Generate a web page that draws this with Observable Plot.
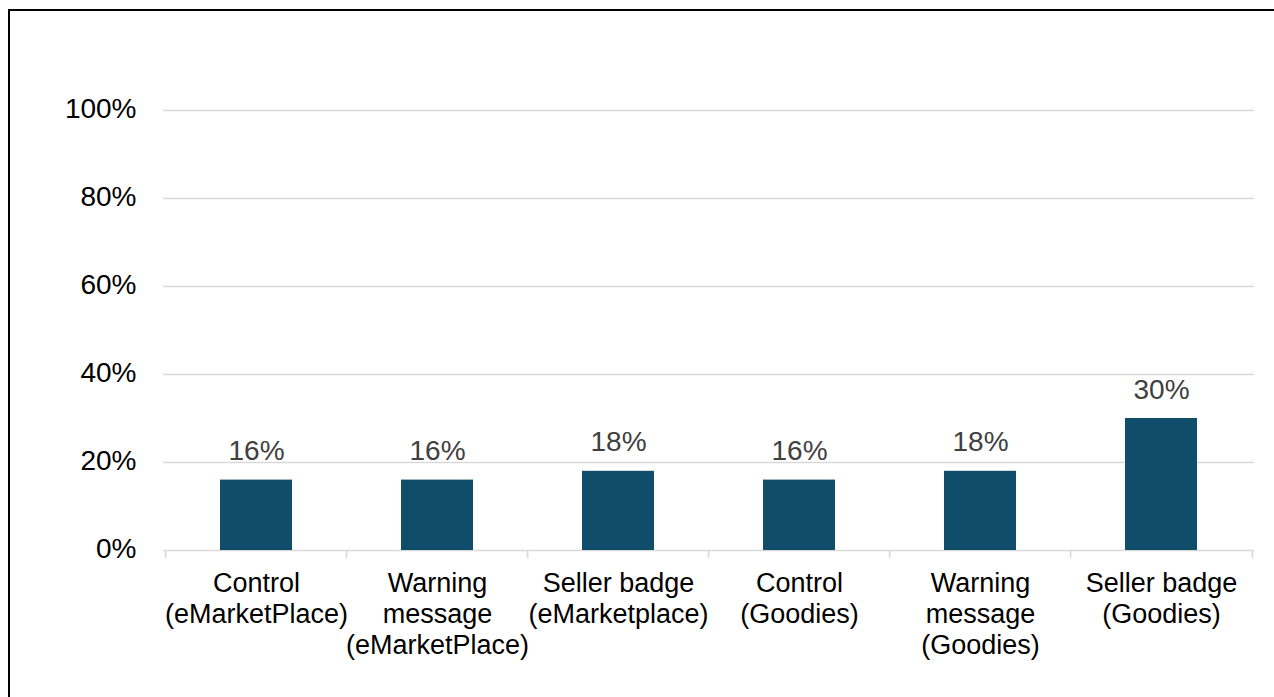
<!DOCTYPE html>
<html><head><meta charset="utf-8">
<script src="https://cdn.jsdelivr.net/npm/d3@7"></script>
<script src="https://cdn.jsdelivr.net/npm/@observablehq/plot@0.6"></script>
<style>
html,body{margin:0;padding:0;background:#fff;overflow:hidden;width:1274px;height:697px;}
#chart{position:absolute;left:0;top:0;}
#frame{position:absolute;left:8px;top:9px;width:1320px;height:740px;border:2px solid #000;box-sizing:border-box;pointer-events:none;}
</style></head><body>
<div id="chart"></div>
<div id="frame"></div>
<script>
const categories = [
  "Control\n(eMarketPlace)",
  "Warning\nmessage\n(eMarketPlace)",
  "Seller badge\n(eMarketplace)",
  "Control\n(Goodies)",
  "Warning\nmessage\n(Goodies)",
  "Seller badge\n(Goodies)"
];
const values = [0.16, 0.16, 0.18, 0.16, 0.18, 0.30];
const yTicks = [0, 0.2, 0.4, 0.6, 0.8, 1.0];

const data = categories.map((c, i) => ({category: c, value: values[i]}));
const W = 1274, H = 697, mL = 163, mR = 20;
const step = (W - mL - mR) / categories.length;
const pct = d3.format(".0%");

const plot = Plot.plot({
  width: W, height: H,
  marginLeft: mL, marginRight: mR, marginTop: 110, marginBottom: 147,
  style: {fontFamily: "'Liberation Sans', Arial, sans-serif", fontSize: "27px", background: "transparent", overflow: "visible", color: "#000"},
  x: {domain: categories, paddingInner: 0.6, paddingOuter: 0.3, axis: null},
  y: {domain: [0, 1]},
  marks: [
    Plot.ruleY(yTicks, {stroke: "#d9d9d9", strokeWidth: 1.6}),
    Plot.ruleX(categories, {x: d => d, dx: -step / 2, y1: 0, y2: 0, insetBottom: -8, stroke: "#d9d9d9", strokeWidth: 1.6}),
    Plot.ruleX([categories[categories.length - 1]], {x: d => d, dx: step / 2, y1: 0, y2: 0, insetBottom: -8, stroke: "#d9d9d9", strokeWidth: 1.6}),
    Plot.barY(data, {x: "category", y: "value", fill: "#0f4d6a"}),
    Plot.text(data, {x: "category", y: "value", text: d => pct(d.value), lineAnchor: "bottom", dy: -20, fill: "#404040", fontSize: 28}),
    Plot.text(categories, {x: d => d, y: 0, text: d => d, lineAnchor: "top", dy: 19, lineHeight: 1.15, fill: "#000", fontSize: 27}),
    Plot.axisY(yTicks, {tickSize: 0, tickPadding: 27, tickFormat: pct, fontSize: 28, dy: -1, fill: "#000", label: null})
  ]
});
document.getElementById("chart").appendChild(plot);
</script>
</body></html>
